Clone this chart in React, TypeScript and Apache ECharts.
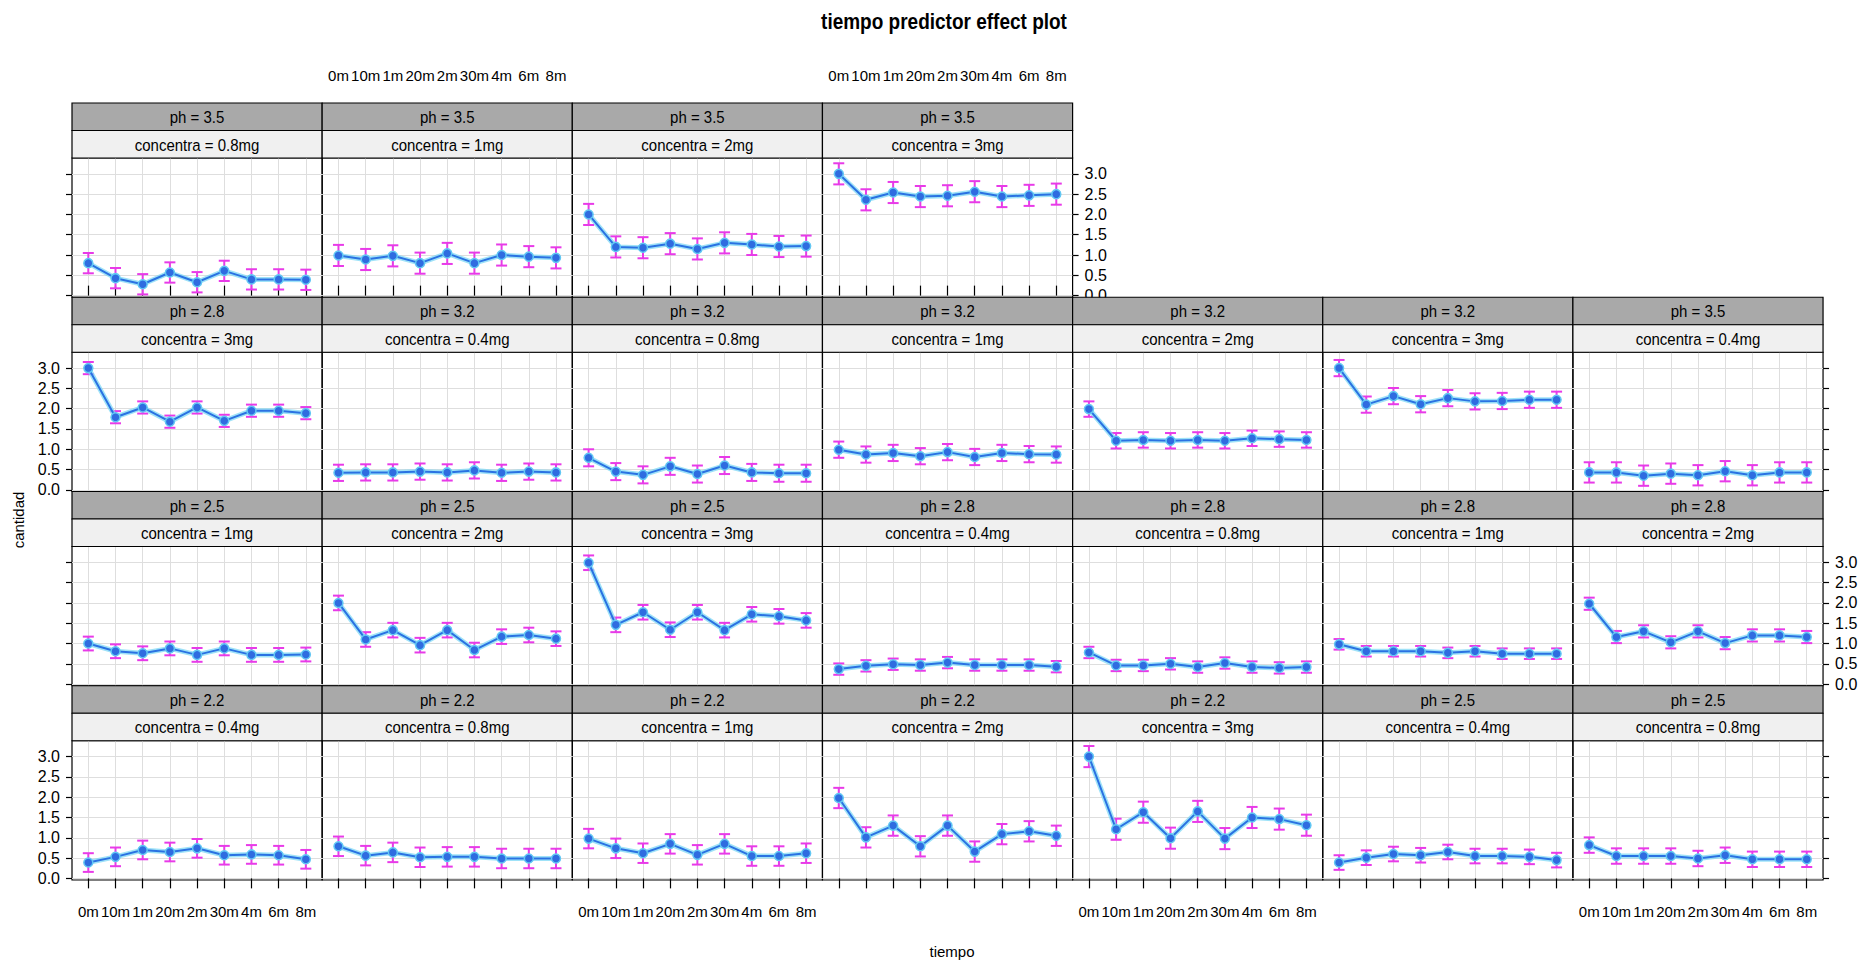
import React, { useEffect, useRef } from 'react';
import * as echarts from 'echarts';

// ---------- data ----------
const timeLabels = ['0m', '10m', '1m', '20m', '2m', '30m', '4m', '6m', '8m'];
const yTickValues = [0, 0.5, 1, 1.5, 2, 2.5, 3];

// panel order follows lattice (bottom-left first, row by row)
const panelPh = ['2.2', '2.2', '2.2', '2.2', '2.2', '2.5', '2.5', '2.5', '2.5', '2.5',
  '2.8', '2.8', '2.8', '2.8', '2.8', '3.2', '3.2', '3.2', '3.2', '3.2',
  '3.5', '3.5', '3.5', '3.5', '3.5'];
const panelConc = ['0.4mg', '0.8mg', '1mg', '2mg', '3mg', '0.4mg', '0.8mg', '1mg', '2mg', '3mg',
  '0.4mg', '0.8mg', '1mg', '2mg', '3mg', '0.4mg', '0.8mg', '1mg', '2mg', '3mg',
  '0.4mg', '0.8mg', '1mg', '2mg', '3mg'];

const ph22_c04 = [0.39, 0.53, 0.70, 0.65, 0.74, 0.57, 0.59, 0.57, 0.47];
const ph22_c08 = [0.79, 0.56, 0.64, 0.52, 0.53, 0.53, 0.49, 0.49, 0.49];
const ph22_c1 = [0.98, 0.74, 0.62, 0.85, 0.58, 0.85, 0.55, 0.55, 0.62];
const ph22_c2 = [1.98, 1.01, 1.30, 0.79, 1.30, 0.66, 1.09, 1.16, 1.05];
const ph22_c3 = [3.00, 1.21, 1.63, 0.99, 1.65, 0.98, 1.50, 1.46, 1.31];
const ph25_c04 = [0.39, 0.51, 0.60, 0.57, 0.65, 0.55, 0.55, 0.53, 0.45];
const ph25_c08 = [0.82, 0.55, 0.55, 0.55, 0.49, 0.57, 0.47, 0.47, 0.47];
const ph25_c1 = [1.00, 0.81, 0.76, 0.88, 0.72, 0.88, 0.72, 0.72, 0.73];
const ph25_c2 = [2.00, 1.10, 1.33, 0.96, 1.33, 0.84, 1.17, 1.21, 1.12];
const ph25_c3 = [2.99, 1.46, 1.77, 1.34, 1.77, 1.33, 1.72, 1.67, 1.57];
const ph28_c04 = [0.37, 0.45, 0.49, 0.47, 0.53, 0.47, 0.47, 0.47, 0.43];
const ph28_c08 = [0.78, 0.46, 0.46, 0.50, 0.42, 0.52, 0.42, 0.40, 0.42];
const ph28_c1 = [0.98, 0.81, 0.81, 0.81, 0.77, 0.81, 0.75, 0.75, 0.75];
const ph28_c2 = [1.98, 1.16, 1.30, 1.03, 1.30, 1.01, 1.20, 1.20, 1.16];
const ph28_c3 = [3.00, 1.79, 2.03, 1.68, 2.03, 1.70, 1.95, 1.95, 1.89];
const ph32_c04 = [0.42, 0.43, 0.43, 0.45, 0.43, 0.48, 0.42, 0.45, 0.43];
const ph32_c08 = [0.79, 0.45, 0.37, 0.58, 0.39, 0.60, 0.43, 0.41, 0.41];
const ph32_c1 = [0.99, 0.87, 0.91, 0.83, 0.93, 0.81, 0.91, 0.88, 0.87];
const ph32_c2 = [1.99, 1.21, 1.23, 1.21, 1.23, 1.21, 1.27, 1.25, 1.23];
const ph32_c3 = [3.00, 2.10, 2.31, 2.11, 2.26, 2.18, 2.19, 2.22, 2.22];
const ph35_c04 = [0.43, 0.43, 0.35, 0.40, 0.36, 0.46, 0.36, 0.43, 0.43];
const ph35_c08 = [0.80, 0.43, 0.28, 0.57, 0.33, 0.61, 0.40, 0.40, 0.39];
const ph35_c1 = [0.99, 0.89, 0.98, 0.80, 1.04, 0.80, 1.00, 0.96, 0.93];
const ph35_c2 = [2.00, 1.20, 1.18, 1.28, 1.15, 1.30, 1.26, 1.21, 1.22];
const ph35_c3 = [3.00, 2.36, 2.54, 2.44, 2.46, 2.56, 2.44, 2.47, 2.50];

// half-width of the confidence interval of each panel
const ciHalfWidth = [0.23, 0.24, 0.24, 0.25, 0.26, 0.18, 0.19, 0.17, 0.18, 0.18,
  0.14, 0.14, 0.13, 0.15, 0.15, 0.20, 0.21, 0.20, 0.19, 0.20,
  0.25, 0.25, 0.26, 0.26, 0.26];

const panelValues = [ph22_c04, ph22_c08, ph22_c1, ph22_c2, ph22_c3,
  ph25_c04, ph25_c08, ph25_c1, ph25_c2, ph25_c3,
  ph28_c04, ph28_c08, ph28_c1, ph28_c2, ph28_c3,
  ph32_c04, ph32_c08, ph32_c1, ph32_c2, ph32_c3,
  ph35_c04, ph35_c08, ph35_c1, ph35_c2, ph35_c3];

// ---------- layout ----------
const FONT = "'Liberation Sans Narrow', 'Arial Narrow', 'Liberation Sans', Arial, sans-serif";
const LEFT0 = 72;
const COLW = 250.15;
const TOP0 = 103;
const ROWH = 194.25;
const STRIPH = 27.5;
const NCOL = 7;

function buildOption() {
  const grids: any[] = [];
  const xAxes: any[] = [];
  const yAxes: any[] = [];
  const series: any[] = [];
  const graphics: any[] = [];
  const xs = timeLabels.map((_, k) => k + 1);

  panelValues.forEach((vals, i) => {
    const col = i % NCOL;
    const rTop = 3 - Math.floor(i / NCOL);
    const left = LEFT0 + col * COLW;
    const rowTop = TOP0 + rTop * ROWH;
    const top = rowTop + 2 * STRIPH;
    const height = ROWH - 2 * STRIPH;
    grids.push({ left, top, width: COLW, height, show: true, borderColor: '#000', borderWidth: 1.2, backgroundColor: 'rgba(0,0,0,0)' });

    const isTop = rTop === 0;
    const isBottom = rTop === 3;
    const showXLabel = (isBottom && col % 2 === 0) || (isTop && col % 2 === 1);
    xAxes.push({
      type: 'value', gridIndex: i, min: 0.4, max: 9.6,
      position: isTop ? 'top' : 'bottom',
      offset: isTop ? 2 * STRIPH : 0,
      axisLine: { show: false },
      axisTick: { show: isTop || isBottom, length: 10, lineStyle: { color: '#000', width: 1.2 }, customValues: xs },
      axisLabel: {
        show: showXLabel, customValues: xs, margin: isTop ? 20 : 24,
        formatter: (v: number) => timeLabels[Math.round(v) - 1] ?? '',
        color: '#000', fontSize: 15, fontFamily: FONT,
      },
      splitLine: { show: true, lineStyle: { color: '#dedede', width: 1 } },
    });

    const isRightEnd = (rTop === 0 && col === 3) || (rTop > 0 && col === NCOL - 1);
    const hasAxis = col === 0 || isRightEnd;
    const showYLabel = (col === 0 && (rTop === 1 || rTop === 3)) || (isRightEnd && (rTop === 0 || rTop === 2));
    yAxes.push({
      type: 'value', gridIndex: i, min: -0.04, max: 3.39,
      position: col === 0 ? 'left' : 'right',
      axisLine: { show: false },
      axisTick: { show: hasAxis, length: 6, lineStyle: { color: '#000', width: 1.2 }, customValues: yTickValues },
      axisLabel: {
        show: showYLabel, customValues: yTickValues, margin: 12,
        formatter: (v: number) => v.toFixed(1),
        color: '#000', fontSize: 16, fontFamily: FONT,
      },
      splitLine: { show: true, lineStyle: { color: '#dedede', width: 1 } },
    });

    const err = ciHalfWidth[i];
    series.push({
      type: 'custom', xAxisIndex: i, yAxisIndex: i, z: 2, silent: true,
      data: vals.map((v, k) => [k + 1, v - err, v + err]),
      encode: { x: 0, y: [1, 2] },
      renderItem: (_p: any, api: any) => {
        const x = api.value(0);
        const lo = api.coord([x, api.value(1)]);
        const hi = api.coord([x, api.value(2)]);
        const cap = 5.5;
        const st = { stroke: '#e83ae8', lineWidth: 2 };
        return {
          type: 'group',
          children: [
            { type: 'line', shape: { x1: lo[0], y1: lo[1], x2: hi[0], y2: hi[1] }, style: st },
            { type: 'line', shape: { x1: lo[0] - cap, y1: lo[1], x2: lo[0] + cap, y2: lo[1] }, style: st },
            { type: 'line', shape: { x1: hi[0] - cap, y1: hi[1], x2: hi[0] + cap, y2: hi[1] }, style: st },
          ],
        };
      },
    });
    const pts = vals.map((v, k) => [k + 1, v]);
    series.push({
      type: 'line', xAxisIndex: i, yAxisIndex: i, z: 3, silent: true,
      data: pts, symbol: 'none',
      lineStyle: { color: '#7fd8f6', width: 5, opacity: 0.75 },
    });
    series.push({
      type: 'line', xAxisIndex: i, yAxisIndex: i, z: 4, silent: true,
      data: pts, symbol: 'circle', symbolSize: 9,
      lineStyle: { color: '#2a72e2', width: 2 },
      itemStyle: { color: '#2f6ce0', borderColor: '#62c8f4', borderWidth: 1.5 },
    });

    // strips
    graphics.push({
      type: 'rect', z: 10, shape: { x: left, y: rowTop, width: COLW, height: STRIPH },
      style: { fill: '#a9a9a9', stroke: '#000', lineWidth: 1.2 },
    });
    graphics.push({
      type: 'rect', z: 10, shape: { x: left, y: rowTop + STRIPH, width: COLW, height: STRIPH },
      style: { fill: '#f0f0f0', stroke: '#000', lineWidth: 1.2 },
    });
    graphics.push({
      type: 'text', z: 11, x: left + COLW / 2, y: rowTop + STRIPH / 2, scaleY: 1.15,
      style: { text: `ph = ${panelPh[i]}`, fill: '#000', font: `15px ${FONT}`, align: 'center', verticalAlign: 'middle' },
    });
    graphics.push({
      type: 'text', z: 11, x: left + COLW / 2, y: rowTop + STRIPH * 1.5, scaleY: 1.15,
      style: { text: `concentra = ${panelConc[i]}`, fill: '#000', font: `15px ${FONT}`, align: 'center', verticalAlign: 'middle' },
    });
  });

  graphics.push({
    type: 'text', z: 11, x: 944, y: 21, scaleY: 1.15,
    style: { text: 'tiempo predictor effect plot', fill: '#000', font: `bold 19px ${FONT}`, align: 'center', verticalAlign: 'middle' },
  });
  graphics.push({
    type: 'text', z: 11, x: 952, y: 951,
    style: { text: 'tiempo', fill: '#000', font: `15px ${FONT}`, align: 'center', verticalAlign: 'middle' },
  });
  graphics.push({
    type: 'text', z: 11, x: 18, y: 520, rotation: Math.PI / 2,
    style: { text: 'cantidad', fill: '#000', font: `15px ${FONT}`, align: 'center', verticalAlign: 'middle' },
  });

  return {
    animation: false,
    backgroundColor: '#fff',
    grid: grids,
    xAxis: xAxes,
    yAxis: yAxes,
    series,
    graphic: { elements: graphics },
  };
}

export default function App() {
  const ref = useRef<HTMLDivElement>(null);
  useEffect(() => {
    if (!ref.current) return;
    const chart = echarts.init(ref.current, undefined, { renderer: 'svg' });
    chart.setOption(buildOption() as any);
    return () => chart.dispose();
  }, []);
  return <div ref={ref} style={{ position: 'fixed', left: 0, top: 0, width: 1872, height: 966 }} />;
}
